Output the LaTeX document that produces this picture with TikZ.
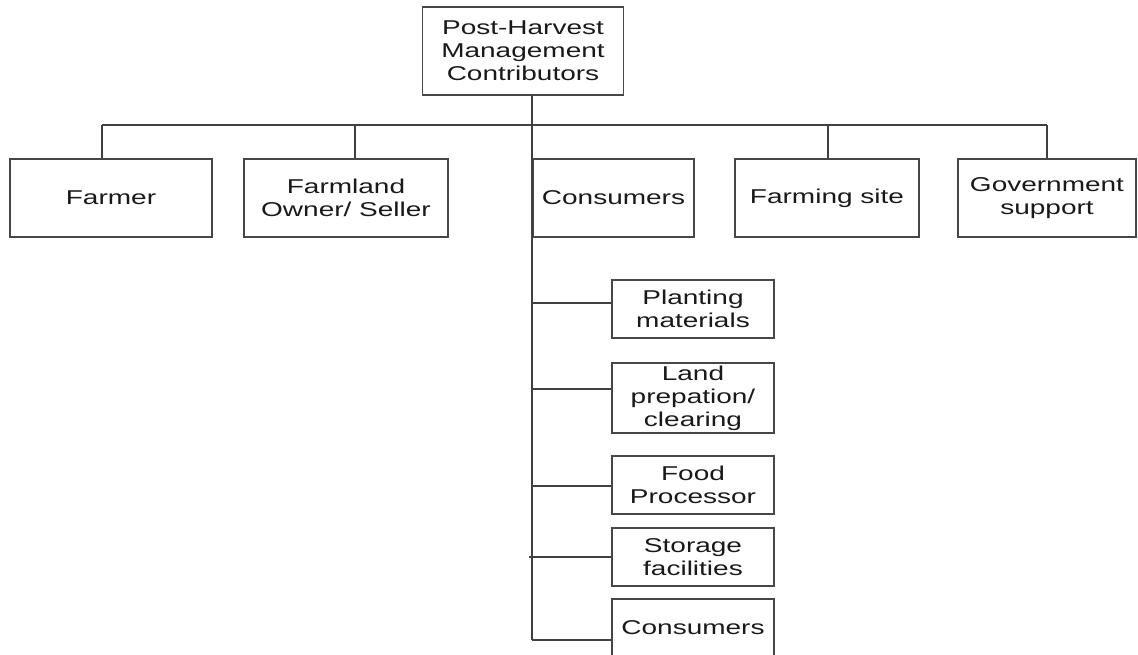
\documentclass[tikz,border=0pt]{standalone}
\usepackage{fontspec}
\setmainfont{Liberation Sans}[FakeStretch=1.4]
\begin{document}
\begin{tikzpicture}[x=1pt,y=-1pt,
  box/.style={draw=black!72, line width=1.1pt, align=center, inner sep=0pt,
    font=\fontsize{20}{23}\selectfont, text=black!90},
  wire/.style={draw=black!75, line width=1.2pt}]
\useasboundingbox (0,0) rectangle (1138,655);

% root
\node[box, minimum width=201pt, minimum height=88pt] (root) at (523,51)
  {Post-Harvest\\Management\\Contributors};

% first level
\node[box, minimum width=202pt, minimum height=78pt] (farmer) at (111,198) {Farmer};
\node[box, minimum width=204pt, minimum height=78pt] (owner) at (346,198) {Farmland\\Owner/ Seller};
\node[box, minimum width=161pt, minimum height=78pt] (cons) at (613.5,198) {Consumers};
\node[box, minimum width=184pt, minimum height=78pt] (site) at (827,198) {Farming site};
\node[box, minimum width=178pt, minimum height=78pt] (gov) at (1047,198) {Government\\support};

% second level
\node[box, minimum width=162pt, minimum height=58pt] (plant) at (693,309) {Planting\\materials};
\node[box, minimum width=162pt, minimum height=70pt] (land) at (693,398) {Land\\prepation/\\clearing};
\node[box, minimum width=162pt, minimum height=58pt] (food) at (693,485) {Food\\Processor};
\node[box, minimum width=162pt, minimum height=58pt] (store) at (693,557) {Storage\\facilities};
\node[box, minimum width=162pt, minimum height=58pt] (cons2) at (693,628) {Consumers};

% bus and spine coordinates
\coordinate (top) at (532,95);
\coordinate (end) at (532,640);
\coordinate (bL) at (102,125);
\coordinate (b2) at (355,125);
\coordinate (b4) at (828,125);
\coordinate (bR) at (1047,125);

\draw[wire] (top) -- (end);
\draw[wire] (bL) -- (bR);
\draw[wire] (bL) -- (bL |- farmer.north);
\draw[wire] (b2) -- (b2 |- owner.north);
\draw[wire] (b4) -- (b4 |- site.north);
\draw[wire] (bR) -- (bR |- gov.north);

% branches to second level
\draw[wire] (532,303) -- (plant.west |- 0,303);
\draw[wire] (532,389) -- (land.west |- 0,389);
\draw[wire] (532,486) -- (food.west |- 0,486);
\draw[wire] (529,557) -- (store.west |- 0,557);
\draw[wire] (end) -- (cons2.west |- end);
\end{tikzpicture}
\end{document}
